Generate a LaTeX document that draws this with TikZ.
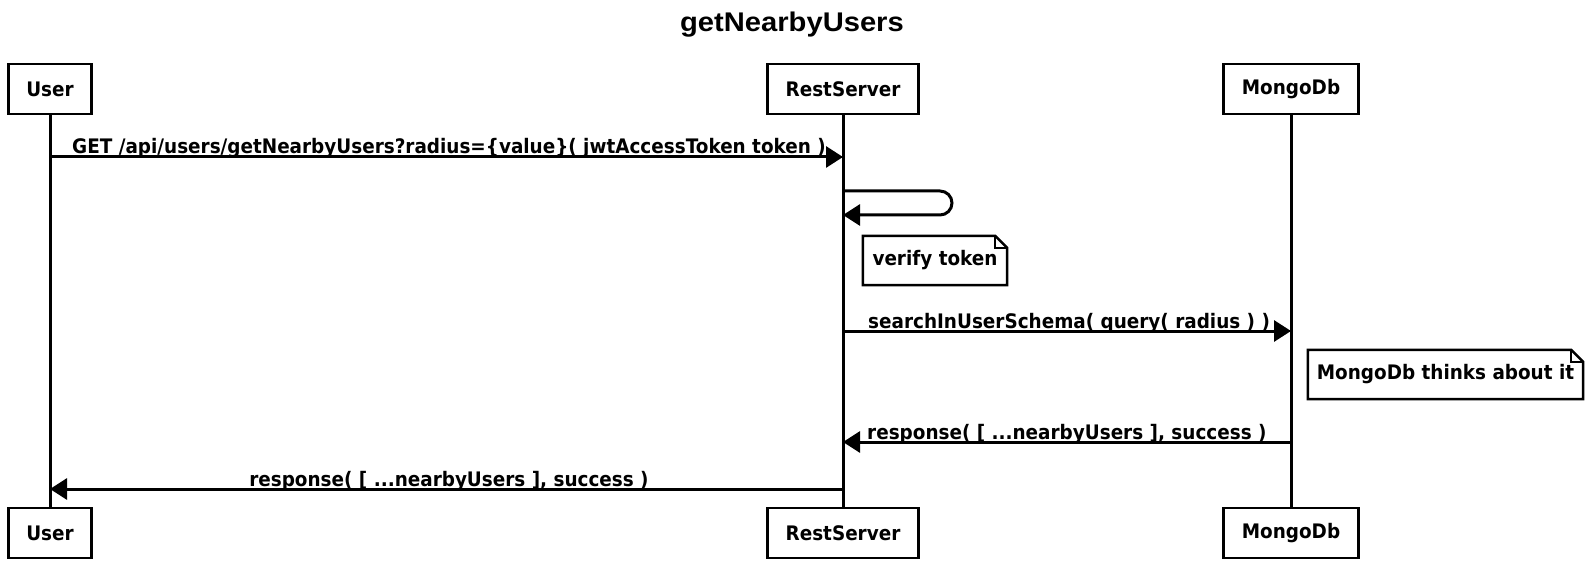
\documentclass[tikz,border=0pt]{standalone}
\usepackage{fontspec}
\setmainfont{DejaVu Sans}[FakeStretch=0.92]
\newfontfamily\titlefont{Liberation Sans}[FakeStretch=1.08]
\usetikzlibrary{arrows.meta}
\begin{document}
\begin{tikzpicture}[x=1pt,y=-1pt,
  actor/.style={draw,line width=2.8pt,font=\bfseries\fontsize{20}{24}\selectfont,inner xsep=18pt,inner ysep=0pt,minimum height=50pt,fill=white},
  life/.style={line width=3pt},
  msg/.style={line width=3pt,-{Triangle[length=17pt,width=21pt]}},
  lab/.style={font=\bfseries\fontsize{20}{24}\selectfont,inner sep=0pt,anchor=base west},
  notebox/.style={font=\bfseries\fontsize{20}{24}\selectfont,inner sep=0pt},
  noteline/.style={line width=2.5pt,line join=miter}]
\useasboundingbox (0,0) rectangle (1592,561);
% title
\node[font=\titlefont\bfseries\fontsize{27}{32}\selectfont] (title) at (792,25) {getNearbyUsers};
% participants
\node[actor] (u1) at (50,89) {User};
\node[actor] (r1) at (843,89) {RestServer};
\node[actor] (m1) at (1291,89) {MongoDb};
\node[actor] (u2) at (50,533) {User};
\node[actor] (r2) at (843,533) {RestServer};
\node[actor] (m2) at (1291,533) {MongoDb};
% lifelines
\draw[life] (u1) -- (u2);
\draw[life] (r1) -- (r2);
\draw[life] (m1) -- (m2);
% message 1
\coordinate (a1) at (u1 |- 0,157);
\coordinate (b1) at (r1 |- 0,157);
\draw[msg] (a1) -- (b1);
\node[lab] (l1) at (72,154) {GET /api/users/getNearbyUsers?radius=\{value\}( jwtAccessToken token )};
% self message
\coordinate (s1) at (r1 |- 0,191);
\coordinate (s2) at (r1 |- 0,215);
\coordinate (s3) at (952,191);
\coordinate (s4) at (952,215);
\draw[msg,rounded corners=12pt] (s1) -- (s3) -- (s4) -- (s2);
% note verify token
\node[notebox,minimum width=144pt,minimum height=49pt] (n1) at (935,260.5) {verify token};
\draw[noteline] (n1.north west) -- ([xshift=-12pt]n1.north east) -- ([yshift=-12pt]n1.north east) -- (n1.south east) -- (n1.south west) -- cycle;
\draw[line width=1.5pt] ([xshift=-12pt]n1.north east) |- ([yshift=-12pt]n1.north east);
% message 3
\coordinate (a3) at (r1 |- 0,331);
\coordinate (b3) at (m1 |- 0,331);
\draw[msg] (a3) -- (b3);
\node[lab] (l3) at (868,328) {searchInUserSchema( query( radius ) )};
% note mongo
\node[notebox,minimum width=275pt,minimum height=49pt] (n2) at (1445.5,374.5) {MongoDb thinks about it};
\draw[noteline] (n2.north west) -- ([xshift=-12pt]n2.north east) -- ([yshift=-12pt]n2.north east) -- (n2.south east) -- (n2.south west) -- cycle;
\draw[line width=1.5pt] ([xshift=-12pt]n2.north east) |- ([yshift=-12pt]n2.north east);
% message 4
\coordinate (a4) at (m1 |- 0,442);
\coordinate (b4) at (r1 |- 0,442);
\draw[msg] (a4) -- (b4);
\node[lab] (l4) at (867,439) {response( [ ...nearbyUsers ], success )};
% message 5
\coordinate (a5) at (r1 |- 0,489);
\coordinate (b5) at (u1 |- 0,489);
\draw[msg] (a5) -- (b5);
\node[lab,anchor=base] (l5) at (449,486) {response( [ ...nearbyUsers ], success )};
\end{tikzpicture}
\end{document}
